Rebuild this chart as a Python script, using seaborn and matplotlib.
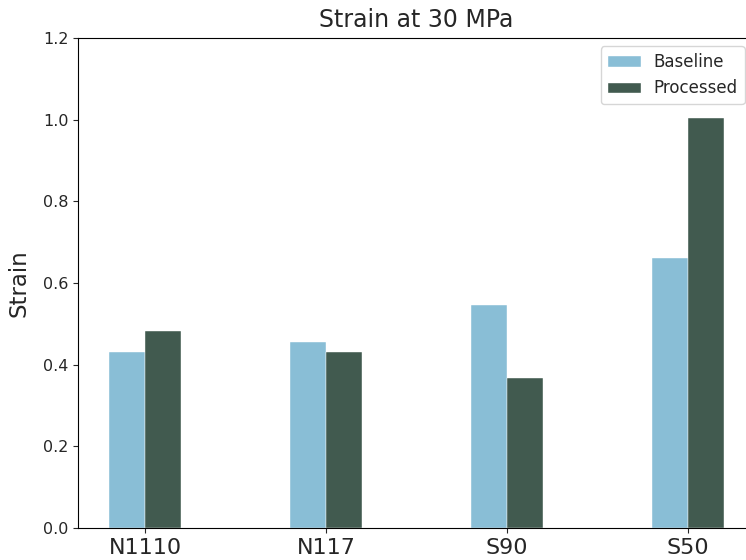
import matplotlib
matplotlib.use("Agg")
import matplotlib.pyplot as plt
from matplotlib.patches import Patch
import seaborn as sns
import pandas as pd

categories = ["N1110", "N117", "S90", "S50"]
baseline = [0.430, 0.456, 0.546, 0.661]
processed = [0.483, 0.432, 0.367, 1.005]
series_names = ["Baseline", "Processed"]
colors = ["#89BED6", "#415A4F"]

df = pd.DataFrame({
    "Sample": categories * 2,
    "Strain": baseline + processed,
    "Series": [series_names[0]] * 4 + [series_names[1]] * 4,
})

sns.set_style("ticks")
plt.rcParams["font.family"] = ["DejaVu Sans"]

fig = plt.figure(figsize=(7.46, 5.6), dpi=100)
ax = fig.add_axes([78 / 746, 32 / 560, (755 - 78) / 746, (528 - 38) / 560])

sns.barplot(data=df, x="Sample", y="Strain", hue="Series", palette=colors,
            width=0.4, ax=ax, saturation=1, edgecolor="white", linewidth=0.3,
            legend=False)

ax.set_xlim(-0.37, 3.37)
ax.set_ylim(0, 1.2)
ax.set_yticks([0.0, 0.2, 0.4, 0.6, 0.8, 1.0, 1.2])
ax.tick_params(axis="y", labelsize=11.5)
ax.tick_params(axis="x", labelsize=16)
ax.set_xlabel("")
ax.set_ylabel("Strain", fontsize=16.5, labelpad=9)
ax.set_title("Strain at 30 MPa", fontsize=17, pad=8)
handles = [Patch(facecolor=c, label=n) for c, n in zip(colors, series_names)]
ax.legend(handles=handles, loc="upper right", fontsize=12, title=None,
          bbox_to_anchor=(0.997, 1.0))
for s in ["top", "right", "left", "bottom"]:
    ax.spines[s].set_visible(True)
    ax.spines[s].set_color("black")

fig.savefig("out.png", dpi=100)
